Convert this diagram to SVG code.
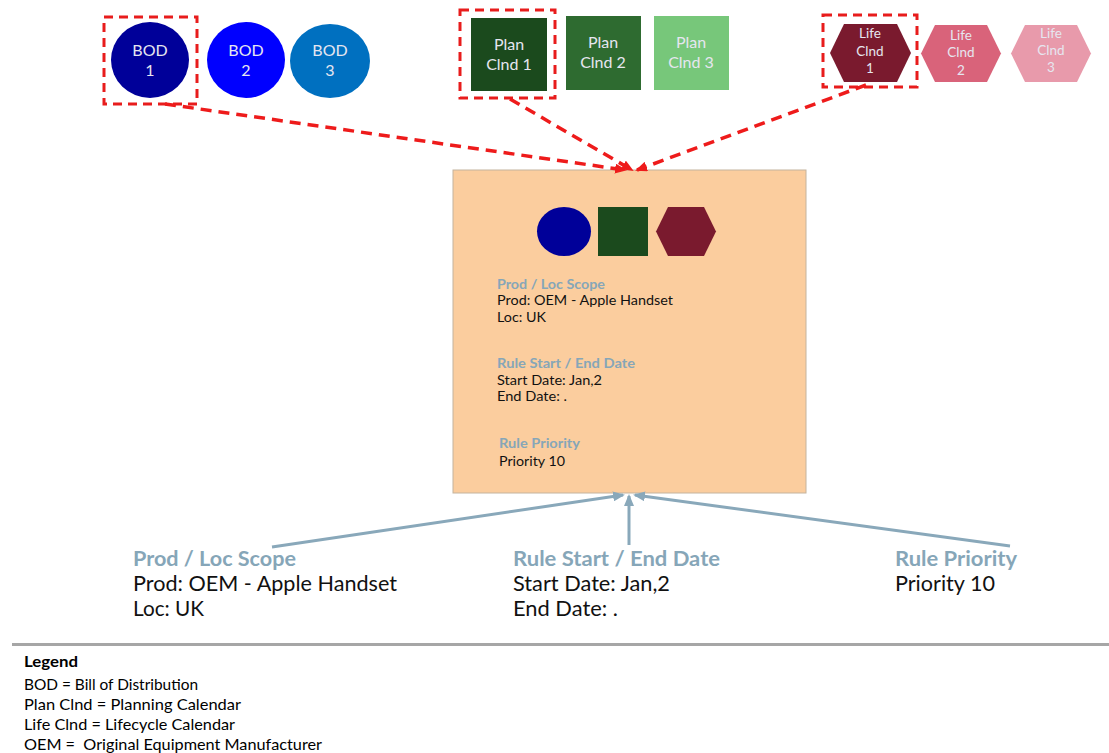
<svg xmlns="http://www.w3.org/2000/svg" width="1109" height="753" viewBox="0 0 1109 753">
<style>
.sh{font-family:Lato,"Liberation Sans",sans-serif;fill:#E6E6F0;font-size:16px;text-anchor:middle}
.sl{font-size:13.5px}
.hd{font-family:Lato,"Liberation Sans",sans-serif;font-weight:bold;fill:#86A6B8}
.bd{font-family:Lato,"Liberation Sans",sans-serif;fill:#111}
.sel{fill:none;stroke:#E81C1C;stroke-width:3;stroke-dasharray:9 6}
.red{fill:none;stroke:#EE1B1B;stroke-width:3.5;stroke-dasharray:11 7}
.blu{fill:none;stroke:#89A8BA;stroke-width:3}
.lg{font-family:Lato,"Liberation Sans",sans-serif;font-size:15px;fill:#000;white-space:pre}
</style>
<defs>
<marker id="ar" markerWidth="12" markerHeight="10" refX="10" refY="5" orient="auto" markerUnits="userSpaceOnUse"><path d="M0,0 L12,5 L0,10 Z" fill="#EE1B1B"/></marker>
<marker id="ab" markerWidth="12" markerHeight="10" refX="10" refY="5" orient="auto" markerUnits="userSpaceOnUse"><path d="M0,0 L12,5 L0,10 Z" fill="#89A8BA"/></marker>
</defs>
<rect width="1109" height="753" fill="#fff"/>

<g id="bod1">
<ellipse cx="150" cy="60" rx="39" ry="38" fill="#000099"/>
<text class="sh" x="150" y="56">BOD</text><text class="sh" x="150" y="76">1</text>
<rect class="sel" x="104" y="17" width="93" height="87"/>
</g>
<g id="bod2">
<ellipse cx="246" cy="60" rx="39" ry="38" fill="#0000FF"/>
<text class="sh" x="246" y="56">BOD</text><text class="sh" x="246" y="76">2</text>
</g>
<g id="bod3">
<ellipse cx="330" cy="61" rx="40" ry="37" fill="#0070C0"/>
<text class="sh" x="330" y="56">BOD</text><text class="sh" x="330" y="76">3</text>
</g>

<g id="plan1">
<rect x="471" y="18" width="76" height="73" fill="#1B4A1D"/>
<text class="sh" x="509" y="50">Plan</text><text class="sh" x="509" y="70">Clnd 1</text>
<rect class="sel" x="460" y="10" width="95" height="88"/>
</g>
<g id="plan2">
<rect x="566" y="16" width="75" height="74" fill="#2E6B30"/>
<text class="sh" x="603" y="48">Plan</text><text class="sh" x="603" y="68">Clnd 2</text>
</g>
<g id="plan3">
<rect x="654" y="16" width="75" height="74" fill="#77C77A"/>
<text class="sh" x="691" y="48">Plan</text><text class="sh" x="691" y="68">Clnd 3</text>
</g>

<g id="life1">
<polygon points="830,53 844,24 897,24 911,53 897,82 844,82" fill="#7A1A2E"/>
<text class="sh sl" x="870" y="38">Life</text><text class="sh sl" x="870" y="56">Clnd</text><text class="sh sl" x="870" y="73">1</text>
<rect class="sel" x="823" y="15" width="94" height="72"/>
</g>
<g id="life2">
<polygon points="921,53.5 935,25 987,25 1001,53.5 987,82 935,82" fill="#D9637A"/>
<text class="sh sl" x="961" y="40">Life</text><text class="sh sl" x="961" y="57">Clnd</text><text class="sh sl" x="961" y="75">2</text>
</g>
<g id="life3">
<polygon points="1011,53.5 1025,25 1077,25 1091,53.5 1077,82 1025,82" fill="#E89AAB"/>
<text class="sh sl" x="1051" y="38">Life</text><text class="sh sl" x="1051" y="55">Clnd</text><text class="sh sl" x="1051" y="72">3</text>
</g>

<g id="rule">
<rect x="453" y="170" width="353" height="323" fill="#FBCD9E" stroke="#C4B39E" stroke-width="1"/>
<ellipse cx="564" cy="231.5" rx="27" ry="24.5" fill="#000099"/>
<rect x="598" y="207" width="50" height="49" fill="#1B4A1D"/>
<polygon points="656,231.5 668,207 704,207 716,231.5 704,256 668,256" fill="#7A1A2E"/>
<text class="hd" font-size="13" x="497" y="289" textLength="108" lengthAdjust="spacingAndGlyphs">Prod / Loc Scope</text>
<text class="bd" font-size="13" x="497" y="305" textLength="176" lengthAdjust="spacingAndGlyphs">Prod: OEM - Apple Handset</text>
<text class="bd" font-size="13" x="497" y="322" textLength="49" lengthAdjust="spacingAndGlyphs">Loc: UK</text>
<text class="hd" font-size="13" x="497" y="368" textLength="138" lengthAdjust="spacingAndGlyphs">Rule Start / End Date</text>
<text class="bd" font-size="13" x="497" y="385" textLength="105" lengthAdjust="spacingAndGlyphs">Start Date: Jan,2</text>
<text class="bd" font-size="13" x="497" y="401" textLength="70" lengthAdjust="spacingAndGlyphs">End Date: .</text>
<text class="hd" font-size="13" x="499" y="448" textLength="81" lengthAdjust="spacingAndGlyphs">Rule Priority</text>
<text class="bd" font-size="13" x="499" y="466" textLength="66" lengthAdjust="spacingAndGlyphs">Priority 10</text>
</g>

<g id="connectors">
<line class="red" x1="165" y1="104" x2="625" y2="170" marker-end="url(#ar)"/>
<line class="red" x1="510" y1="99" x2="632" y2="170" marker-end="url(#ar)"/>
<line class="red" x1="866" y1="85" x2="637" y2="170" marker-end="url(#ar)"/>
<line class="blu" x1="272" y1="547" x2="623" y2="495" marker-end="url(#ab)"/>
<line class="blu" x1="629" y1="545" x2="629" y2="496" marker-end="url(#ab)"/>
<line class="blu" x1="1010" y1="546" x2="635" y2="495" marker-end="url(#ab)"/>
</g>

<g id="label-scope">
<text class="hd" font-size="21" x="133" y="566" textLength="163" lengthAdjust="spacingAndGlyphs">Prod / Loc Scope</text>
<text class="bd" font-size="21" x="133" y="591" textLength="264" lengthAdjust="spacingAndGlyphs">Prod: OEM - Apple Handset</text>
<text class="bd" font-size="21" x="133" y="616" textLength="71" lengthAdjust="spacingAndGlyphs">Loc: UK</text>
</g>
<g id="label-date">
<text class="hd" font-size="21" x="513" y="566" textLength="207" lengthAdjust="spacingAndGlyphs">Rule Start / End Date</text>
<text class="bd" font-size="21" x="513" y="591" textLength="157" lengthAdjust="spacingAndGlyphs">Start Date: Jan,2</text>
<text class="bd" font-size="21" x="513" y="616" textLength="105" lengthAdjust="spacingAndGlyphs">End Date: .</text>
</g>
<g id="label-priority">
<text class="hd" font-size="21" x="895" y="566" textLength="122" lengthAdjust="spacingAndGlyphs">Rule Priority</text>
<text class="bd" font-size="21" x="895" y="591" textLength="100" lengthAdjust="spacingAndGlyphs">Priority 10</text>
</g>

<g id="legend">
<line x1="12" y1="644.5" x2="1109" y2="644.5" stroke="#A6A6A6" stroke-width="3"/>
<text class="lg" x="24" y="667" font-weight="bold" textLength="54" lengthAdjust="spacingAndGlyphs">Legend</text>
<text class="lg" x="24" y="690" textLength="174" lengthAdjust="spacingAndGlyphs">BOD = Bill of Distribution</text>
<text class="lg" x="24" y="710" textLength="217" lengthAdjust="spacingAndGlyphs">Plan Clnd = Planning Calendar</text>
<text class="lg" x="24" y="730" textLength="211" lengthAdjust="spacingAndGlyphs">Life Clnd = Lifecycle Calendar</text>
<text class="lg" x="24" y="750" xml:space="preserve" textLength="298" lengthAdjust="spacingAndGlyphs">OEM =  Original Equipment Manufacturer</text>
</g>
</svg>
